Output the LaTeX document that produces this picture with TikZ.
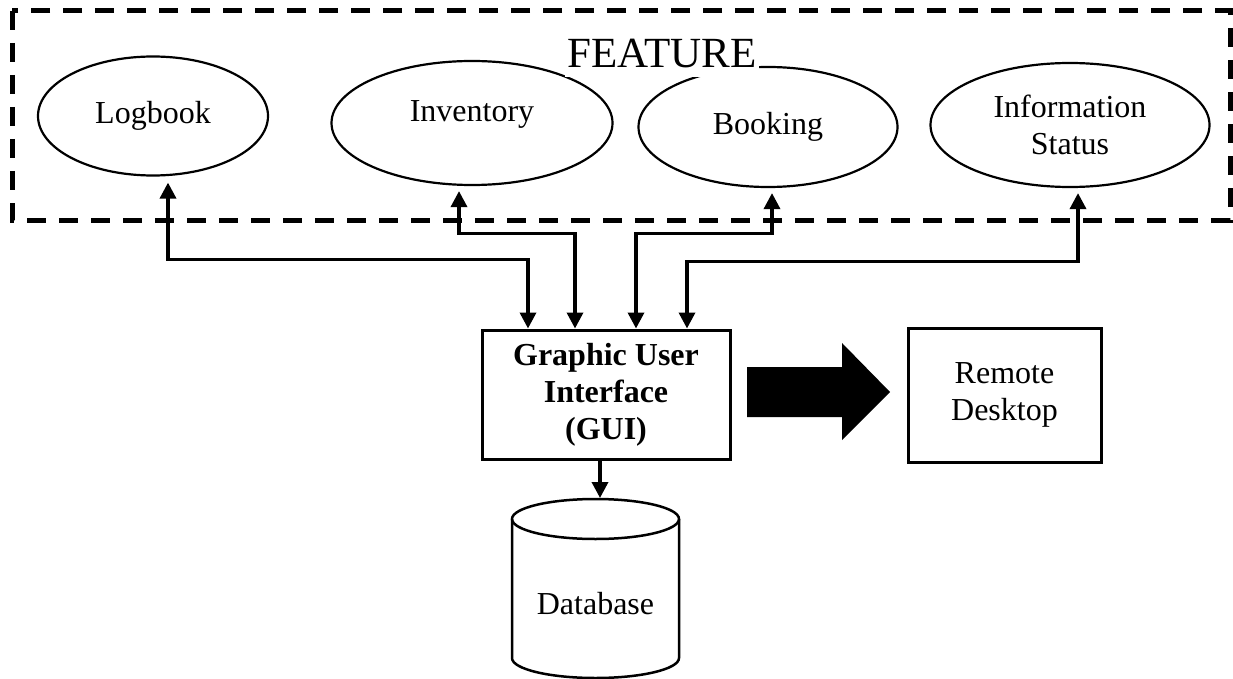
\documentclass[tikz,border=0pt]{standalone}
\usepackage{fontspec}
\setmainfont{Liberation Serif}
\usetikzlibrary{shapes.geometric,arrows.meta}
\tikzset{
  >={Triangle[width=16pt,length=16pt]},
  feat/.style={draw,ellipse,line width=2.2pt,inner sep=0pt,align=center},
  box/.style={draw,line width=3pt,inner sep=0pt,align=center},
  link/.style={line width=3.5pt,<->},
}
\newcommand{\txt}{\fontsize{32}{37}\selectfont}

\begin{document}
\begin{tikzpicture}[x=1pt,y=-1pt,font=\txt]
\useasboundingbox (0,0) rectangle (1233,679);
% feature frame
\draw[line width=5pt,dash pattern=on 19pt off 13pt] (12,11) rectangle (1230,220);
\node[feat,minimum width=230,minimum height=119] (log) at (153,116) {Logbook};
\node[feat,minimum width=281,minimum height=124,label={[name=invt,yshift=9]center:Inventory}] (inv) at (472,123) {};
\node[feat,minimum width=259,minimum height=120] (book) at (768,127) {Booking};
\node[feat,minimum width=279,minimum height=124] (info) at (1070,125) {Information\\Status};
\node[fill=white,inner sep=3pt,text depth=6pt,anchor=base,font=\fontsize{43}{43}\selectfont] (title) at (662,68) {FEATURE};

% main blocks
\node[box,minimum width=248,minimum height=129,font=\txt\bfseries] (gui) at (606,394.5) {Graphic User\\Interface\\(GUI)};
\node[box,minimum width=193,minimum height=134] (rd) at (1004.5,395) {Remote\\Desktop};

% links to the features
\draw[link] ([xshift=-78]gui.north) -- ++(0,-69) -| ([xshift=15,yshift=-6]log.south);
\draw[link] ([xshift=-31]gui.north) -- ++(0,-95) -| ([xshift=-13,yshift=-5]inv.south);
\draw[link] ([xshift=30]gui.north) -- ++(0,-95) -| ([xshift=4,yshift=-5]book.south);
\draw[link] ([xshift=81]gui.north) -- ++(0,-67) -| ([xshift=8,yshift=-5]info.south);

% big arrow to remote desktop
\fill (747,367) -- (842,367) -- (842,343) -- (890,392) -- (842,440) -- (842,417) -- (747,417) -- cycle;

% database
\draw[line width=2.5pt] (595.5,519) ellipse [x radius=83.5,y radius=20];
\draw[line width=2.5pt] (512,519) -- (512,658) arc[start angle=180,end angle=0,x radius=83.5,y radius=20] -- (679,519);
\node (db) at (595.5,604) {Database};
\coordinate (dbtop) at (600,498);
\draw[line width=3.5pt,->] ([xshift=-6]gui.south) -- (dbtop);
\end{tikzpicture}
\end{document}
